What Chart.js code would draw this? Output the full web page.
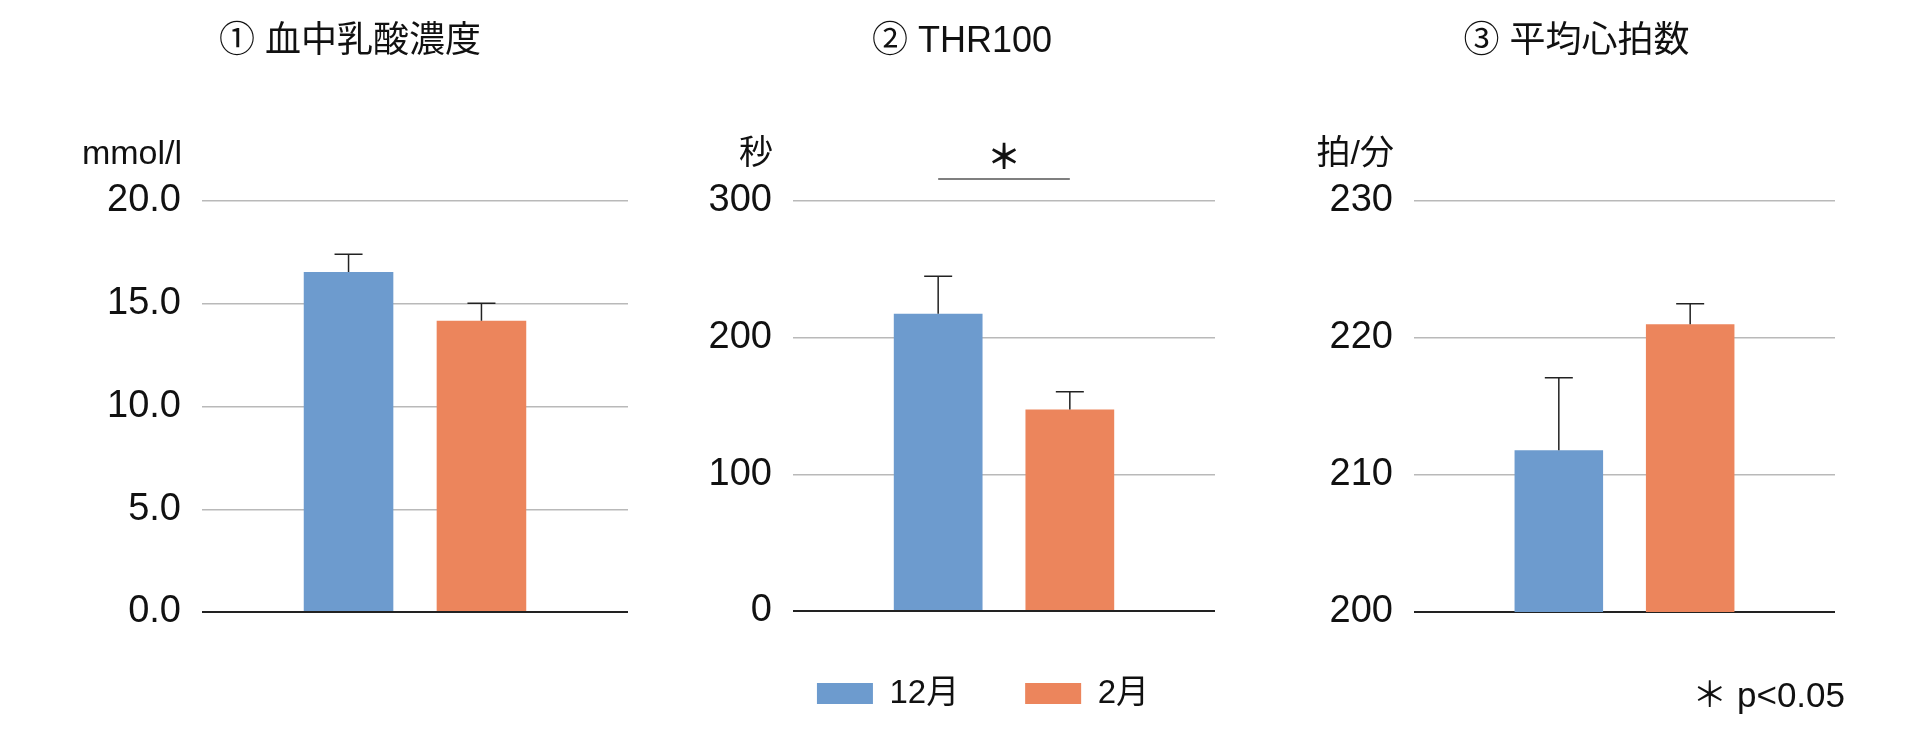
<!DOCTYPE html>
<html lang="ja">
<head>
<meta charset="UTF-8">
<title>12月 / 2月</title>
<style>
  body { margin: 0; background: #fff; }
  canvas { position: absolute; top: 0; }
</style>
</head>
<body>
<canvas id="lactateChart" width="566" height="736" style="left:62px"></canvas>
<canvas id="thrChart" width="562" height="736" style="left:653px"></canvas>
<canvas id="hrChart" width="601" height="736" style="left:1274px"></canvas>

<script src="https://cdn.jsdelivr.net/npm/chart.js@4.4.1/dist/chart.umd.min.js"></script>
<script>
  const MONTHS = ['12月', '2月'];
  const COLORS = ['#6d9bce', '#ec855c'];

  // mean and upper error per month
  const LACTATE = [16.55, 14.17];
  const LACTATE_ERR = [0.86, 0.85];
  const THR100 = [217.5, 147.5];
  const THR100_ERR = [27.5, 12.9];
  const HEART_RATE = [211.8, 221.0];
  const HEART_RATE_ERR = [5.3, 1.5];

  // min, max, step
  const LACTATE_TICKS = [0, 20, 5];
  const THR100_TICKS = [0, 300, 100];
  const HEART_RATE_TICKS = [200, 230, 10];

  const TITLES = ['① 血中乳酸濃度', '② THR100', '③ 平均心拍数'];
  const UNITS = ['mmol/l', '秒', '拍/分'];
  const NOTE = '＊ p<0.05';

  const FONT = '"Liberation Sans", "Noto Sans CJK JP", sans-serif';
  Chart.defaults.font.family = FONT;
  Chart.defaults.color = '#111';

  const decor = {
    id: 'decor',
    afterDatasetsDraw(chart, args, opts) {
      const ctx = chart.ctx;
      const area = chart.chartArea;
      const y = chart.scales.y;
      ctx.save();

      // error bars (upper only)
      ctx.strokeStyle = '#222';
      ctx.lineWidth = 1.5;
      chart.data.datasets.forEach((ds, i) => {
        const bar = chart.getDatasetMeta(i).data[0];
        const top = y.getPixelForValue(ds.data[0] + ds.errors[0]);
        ctx.beginPath();
        ctx.moveTo(bar.x, bar.y);
        ctx.lineTo(bar.x, top);
        ctx.moveTo(bar.x - 14, top);
        ctx.lineTo(bar.x + 14, top);
        ctx.stroke();
      });

      ctx.fillStyle = '#111';
      ctx.textBaseline = 'middle';

      ctx.font = '36px ' + FONT;
      ctx.textAlign = 'center';
      ctx.fillText(opts.title, (area.left + area.right) / 2 + opts.titleShift, 42);

      ctx.font = '34px ' + FONT;
      ctx.textAlign = 'right';
      ctx.fillText(opts.unit, area.left - 20, 155);

      if (opts.sig) {
        const x0 = chart.getDatasetMeta(0).data[0].x;
        const x1 = chart.getDatasetMeta(1).data[0].x;
        ctx.strokeStyle = '#555';
        ctx.beginPath();
        ctx.moveTo(x0, area.top - 22);
        ctx.lineTo(x1, area.top - 22);
        ctx.stroke();
        ctx.font = 'bold 34px ' + FONT;
        ctx.textAlign = 'center';
        ctx.fillText('＊', (x0 + x1) / 2, area.top - 41);
      }

      if (opts.note) {
        ctx.font = '35px ' + FONT;
        ctx.textAlign = 'right';
        ctx.fillText(opts.note, area.right + 10, 697);
      }
      ctx.restore();
    }
  };

  function renderPanel(canvas, values, errors, ticks, decorOpts, withLegend) {
    const [min, max, step] = ticks;
    const datasets = MONTHS.map((month, i) => ({
      label: month,
      data: [values[i]],
      errors: [errors[i]],
      backgroundColor: COLORS[i],
      borderWidth: 0,
      categoryPercentage: 0.624,
      barPercentage: 0.674
    }));

    new Chart(canvas, {
      type: 'bar',
      data: { labels: [''], datasets },
      plugins: [decor],
      options: {
        responsive: false,
        animation: false,
        layout: {
          padding: { top: 201, bottom: withLegend ? 16 : 124, left: 0, right: decorOpts.note ? 40 : 0 }
        },
        plugins: {
          tooltip: { enabled: false },
          legend: {
            display: withLegend,
            position: 'bottom',
            align: 'end',
            labels: {
              boxWidth: 56,
              boxHeight: 21,
              padding: 66,
              font: { size: 33 }
            }
          },
          decor: decorOpts
        },
        scales: {
          x: { display: false },
          y: {
            min, max,
            afterFit(scale) { scale.width = 140; },
            border: { display: false },
            grid: {
              drawTicks: false,
              lineWidth: ctx => ctx.tick && ctx.tick.value === min ? 2 : 1.5,
              color: ctx => ctx.tick && ctx.tick.value === min ? '#222' : '#b9b9b9'
            },
            ticks: {
              stepSize: step,
              padding: 21,
              font: { size: 38 },
              color: '#111',
              callback: v => max <= 20 ? v.toFixed(1) : String(v)
            }
          }
        }
      }
    });
  }

  renderPanel(document.getElementById('lactateChart'), LACTATE, LACTATE_ERR, LACTATE_TICKS,
    { title: TITLES[0], titleShift: -65, unit: UNITS[0] }, false);
  renderPanel(document.getElementById('thrChart'), THR100, THR100_ERR, THR100_TICKS,
    { title: TITLES[1], titleShift: -42, unit: UNITS[1], sig: true }, true);
  renderPanel(document.getElementById('hrChart'), HEART_RATE, HEART_RATE_ERR, HEART_RATE_TICKS,
    { title: TITLES[2], titleShift: -48, unit: UNITS[2], note: NOTE }, false);
</script>
</body>
</html>
